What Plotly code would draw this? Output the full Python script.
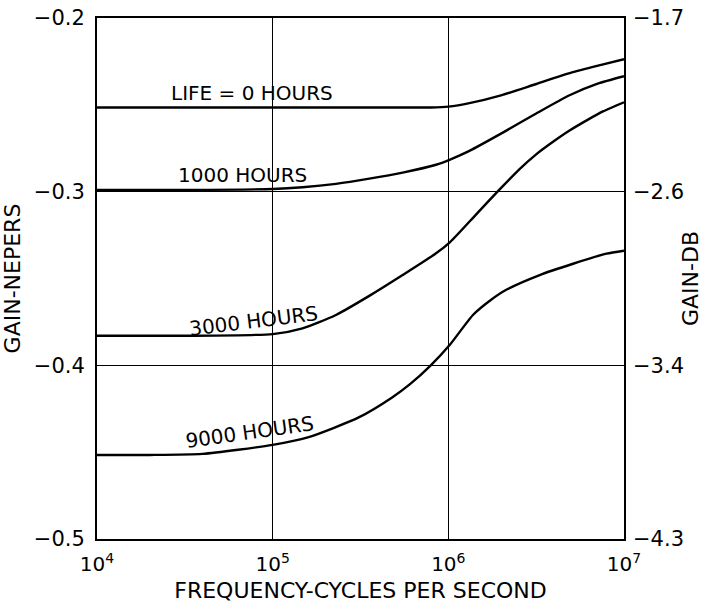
import numpy as np
import plotly.graph_objects as go

# ---- data ----
# frequency given as log10(cycles per second); gain in nepers
life0_logf = [4.0, 4.5, 5.0, 5.5, 5.9, 6.0, 6.12, 6.3, 6.5, 6.7, 6.87, 7.0]
life0_gain = [-0.2515, -0.2515, -0.2515, -0.2515, -0.2515, -0.251, -0.249, -0.2445, -0.238, -0.2315, -0.227, -0.2237]

h1000_logf = [4.0, 4.5, 5.0, 5.17, 5.36, 5.55, 5.74, 5.93, 6.01, 6.12, 6.31, 6.50, 6.69, 6.85, 7.0]
h1000_gain = [-0.299, -0.299, -0.2985, -0.2975, -0.2955, -0.2925, -0.289, -0.2845, -0.2815, -0.2765, -0.266, -0.255, -0.2445, -0.2378, -0.2335]

h3000_logf = [4.0, 4.5, 5.0, 5.17, 5.36, 5.55, 5.74, 5.93, 6.01, 6.16, 6.28, 6.41, 6.50, 6.60, 6.69, 6.79, 6.88, 7.0]
h3000_gain = [-0.383, -0.383, -0.382, -0.3787, -0.371, -0.360, -0.348, -0.3355, -0.329, -0.3129, -0.300, -0.2866, -0.2785, -0.271, -0.2648, -0.2588, -0.2538, -0.2485]

h9000_logf = [4.0, 4.3, 4.6, 5.0, 5.2, 5.49, 5.68, 5.78, 5.90, 6.01, 6.14, 6.24, 6.33, 6.52, 6.71, 6.90, 7.0]
h9000_gain = [-0.4516, -0.4516, -0.451, -0.4458, -0.4415, -0.430, -0.4185, -0.411, -0.400, -0.388, -0.371, -0.3625, -0.3565, -0.348, -0.3415, -0.3357, -0.334]

series_names = ["LIFE = 0 HOURS", "1000 HOURS", "3000 HOURS", "9000 HOURS"]
series_logf = [life0_logf, h1000_logf, h3000_logf, h9000_logf]
series_gain = [life0_gain, h1000_gain, h3000_gain, h9000_gain]

# label anchor positions (log10 f, nepers) and rotation
label_logf = [4.88, 4.83, 4.89, 4.87]
label_gain = [-0.2432, -0.2904, -0.3744, -0.4383]
label_angle = [0, 0, -7, -8]

x_tick_exps = [4, 5, 6, 7]
y_ticks = [-0.2, -0.3, -0.4, -0.5]
y_tick_text = ["\u22120.2", "\u22120.3", "\u22120.4", "\u22120.5"]
db_tick_text = ["\u22121.7", "\u22122.6", "\u22123.4", "\u22124.3"]

FONT = "DejaVu Sans"

fig = go.Figure()
for name, lf, g in zip(series_names, series_logf, series_gain):
    fig.add_trace(go.Scatter(
        x=[10 ** v for v in lf], y=g, mode="lines", name=name,
        line=dict(color="black", width=2.4, shape="spline", smoothing=0.6),
        showlegend=False, hoverinfo="skip"))

# invisible trace so the right-hand axis is drawn
fig.add_trace(go.Scatter(x=[10 ** x_tick_exps[0]], y=[y_ticks[0]], yaxis="y2",
                         mode="markers", marker=dict(opacity=0), showlegend=False,
                         hoverinfo="skip"))

for name, lf, g, a in zip(series_names, label_logf, label_gain, label_angle):
    fig.add_annotation(x=lf, y=g, text=name, showarrow=False, textangle=a,
                       font=dict(family=FONT, size=20, color="black"))

fig.update_layout(
    width=703, height=608,
    margin=dict(l=97, r=79, t=18, b=69, autoexpand=False),
    paper_bgcolor="white", plot_bgcolor="white",
    font=dict(family=FONT, color="black"),
    xaxis=dict(
        type="log", range=[x_tick_exps[0], x_tick_exps[-1]],
        tickvals=[10 ** e for e in x_tick_exps],
        ticktext=[f"10<sup>{e}</sup>" for e in x_tick_exps],
        tickfont=dict(size=20), ticks="", ticklabelstandoff=6,
        showgrid=True, gridcolor="black", gridwidth=1.4,
        showline=True, linecolor="black", linewidth=2, mirror=True,
        zeroline=False, automargin=False,
        title=dict(text="FREQUENCY-CYCLES PER SECOND", font=dict(size=22), standoff=8),
    ),
    yaxis=dict(
        range=[y_ticks[-1], y_ticks[0]], tickvals=y_ticks, ticktext=y_tick_text,
        tickfont=dict(size=21), ticks="", ticklabelstandoff=6,
        showgrid=True, gridcolor="black", gridwidth=1.4,
        showline=True, linecolor="black", linewidth=2, mirror=True,
        zeroline=False, automargin=False,
        title=dict(text="GAIN-NEPERS", font=dict(size=22), standoff=14),
    ),
    yaxis2=dict(
        overlaying="y", side="right",
        range=[y_ticks[-1], y_ticks[0]], tickvals=y_ticks, ticktext=db_tick_text,
        tickfont=dict(size=21), ticks="", ticklabelstandoff=8,
        showgrid=False, zeroline=False, showline=False, automargin=False,
        title=dict(text="GAIN-DB", font=dict(size=22), standoff=2),
    ),
)

fig.write_html("out.html", config={"displayModeBar": False},
               post_script="document.body.style.margin='0';")
